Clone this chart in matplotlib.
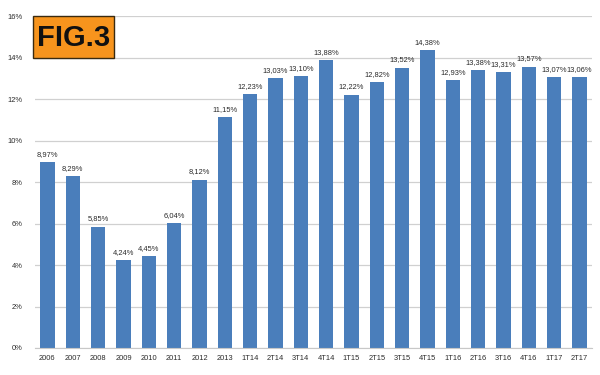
import matplotlib
matplotlib.use("Agg")
from matplotlib import pyplot as plt
from matplotlib import ticker
from matplotlib.patches import Rectangle

periods = ["2006", "2007", "2008", "2009", "2010", "2011", "2012", "2013",
           "1T14", "2T14", "3T14", "4T14", "1T15", "2T15", "3T15", "4T15",
           "1T16", "2T16", "3T16", "4T16", "1T17", "2T17"]
values = [8.97, 8.29, 5.85, 4.24, 4.45, 6.04, 8.12, 11.15,
          12.23, 13.03, 13.10, 13.88, 12.22, 12.82, 13.52, 14.38,
          12.93, 13.38, 13.31, 13.57, 13.07, 13.06]
yticks = [0, 2, 4, 6, 8, 10, 12, 14, 16]

plt.rcParams["font.family"] = ["Liberation Sans", "DejaVu Sans"]

fig = plt.figure(figsize=(6, 3.75), dpi=100)
ax = fig.add_axes([0.058, 0.072, 0.929, 0.885])

x = list(range(len(periods)))
ax.bar(x, values, width=0.56, color="#4a7ebb", zorder=2)
for xi, v in zip(x, values):
    ax.text(xi, v + 0.2, f"{v:.2f}%".replace(".", ","), ha="center",
            va="bottom", fontsize=5.4, color="#2a2a2a")

ax.set_ylim(0, 16)
ax.set_xlim(-0.5, len(periods) - 0.5)
ax.set_yticks(yticks)
ax.yaxis.set_major_formatter(ticker.FuncFormatter(lambda t, _: f"{t:.0f}%"))
ax.set_xticks(x)
ax.set_xticklabels(periods)
ax.tick_params(axis="both", length=0, labelsize=5.4, colors="#2a2a2a")
ax.tick_params(axis="y", pad=9)
ax.tick_params(axis="x", pad=5)
ax.grid(axis="y", color="#d0d0d0", linewidth=0.9, zorder=0)
for s in ["top", "right", "left"]:
    ax.spines[s].set_visible(False)
ax.spines["bottom"].set_color("#c8c8c8")

# FIG.3 badge
fig.patches.append(Rectangle((33 / 600, 1 - 58 / 375), 81 / 600, 42 / 375,
                             transform=fig.transFigure, facecolor="#f7941d",
                             edgecolor="#3a2a10", linewidth=1.0, zorder=5))
fig.text(73.5 / 600, 1 - 38 / 375, "FIG.3", ha="center", va="center",
         fontsize=21, fontweight="bold", color="#111111", zorder=6)

fig.savefig("out.png", dpi=100)
